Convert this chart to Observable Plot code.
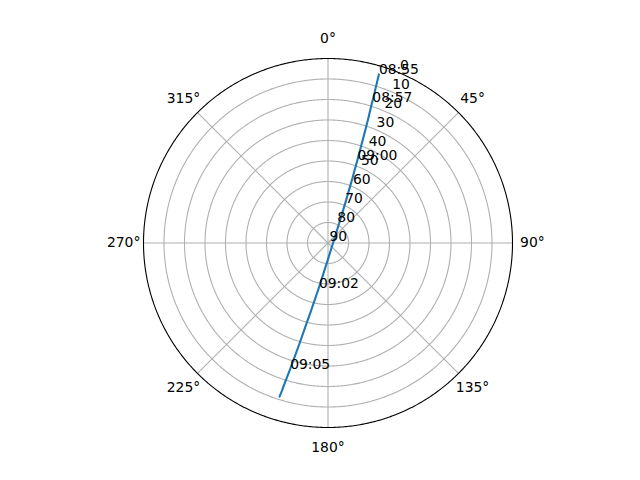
<!DOCTYPE html>
<html>
<head>
<meta charset="utf-8">
<script src="https://cdn.jsdelivr.net/npm/d3@7"></script>
<script src="https://cdn.jsdelivr.net/npm/@observablehq/plot@0.6"></script>
<style>
  html, body { margin: 0; padding: 0; background: #ffffff; }
  #chart svg { display: block; }
</style>
</head>
<body>
<div id="chart"></div>
<script>
// Satellite pass sky track (azimuth in degrees, elevation in degrees)
const times = [
  "08:55:00", "08:55:30", "08:56:00", "08:56:30", "08:57:00", "08:57:30",
  "08:58:00", "08:58:30", "08:59:00", "08:59:30", "09:00:00", "09:00:30",
  "09:01:00", "09:01:30", "09:02:00", "09:02:30", "09:03:00", "09:03:30",
  "09:04:00", "09:04:30", "09:05:00", "09:05:30", "09:06:00", "09:06:30",
  "09:07:00"
];
const azimuth = [
  16.8, 16.9, 17.0, 17.1, 17.3, 17.4,
  17.6, 17.9, 18.3, 18.8, 19.5, 20.7,
  23.1, 34.3, 180.5, 191.5, 194.0, 195.2,
  195.8, 196.3, 196.7, 197.0, 197.2, 197.3,
  197.5
];
const elevation = [
  4.1, 6.4, 8.7, 11.4, 14.4, 17.7,
  21.5, 26.0, 32.2, 39.3, 47.0, 56.4,
  67.8, 81.9, 81.9, 67.7, 56.4, 47.0,
  39.3, 32.2, 25.8, 21.5, 17.7, 14.4,
  11.4
];
const rTicks = [0, 10, 20, 30, 40, 50, 60, 70, 80, 90];
const thetaTicks = [0, 45, 90, 135, 180, 225, 270, 315];
const rLabelAngle = 22.5;
const labelEvery = 5;

const track = times.map((t, i) => ({time: t, az: azimuth[i], el: elevation[i]}));
const lon = (az) => 180 - az; // compass azimuth: 0° at top, clockwise
const ring = (radius) => d3.geoCircle().center([0, 90]).radius(radius).precision(0.5)();

const chart = Plot.plot({
  width: 640,
  height: 480,
  marginLeft: 143,
  marginRight: 128,
  marginTop: 58,
  marginBottom: 53,
  projection: {
    type: "azimuthal-equidistant",
    rotate: [0, -90],
    domain: ring(90),
    inset: 0,
    clip: false
  },
  style: {
    fontFamily: "'DejaVu Sans', sans-serif",
    fontSize: "13.9px",
    background: "white",
    color: "black",
    overflow: "visible"
  },
  marks: [
    Plot.geo(rTicks.filter((e) => e > 0 && e < 90).map((e) => ring(90 - e)), {
      stroke: "#b0b0b0", strokeWidth: 1.1, fill: "none"
    }),
    Plot.link(thetaTicks, {
      x1: (d) => lon(d), y1: 90, x2: (d) => lon(d), y2: 0,
      stroke: "#b0b0b0", strokeWidth: 1.1
    }),
    Plot.line(track, {
      x: (d) => lon(d.az), y: "el",
      stroke: "#1f77b4", strokeWidth: 2.1, curve: "linear"
    }),
    Plot.geo([ring(90)], {stroke: "black", strokeWidth: 1.1, fill: "none"}),
    Plot.text(rTicks, {
      x: lon(rLabelAngle), y: (d) => d, text: (d) => String(d),
      textAnchor: "start", lineAnchor: "bottom", dx: 1.5, dy: -2.5, fill: "black"
    }),
    Plot.text(thetaTicks, {
      x: (d) => lon(d), y: -9.7, text: (d) => d + "°",
      textAnchor: "middle", lineAnchor: "middle", fill: "black"
    }),
    Plot.text(track.filter((d, i) => i % labelEvery === 0), {
      x: (d) => lon(d.az), y: "el", text: (d) => d.time.slice(0, 5),
      textAnchor: "start", lineAnchor: "bottom", fill: "black"
    })
  ]
});
document.getElementById("chart").appendChild(chart);
</script>
</body>
</html>
